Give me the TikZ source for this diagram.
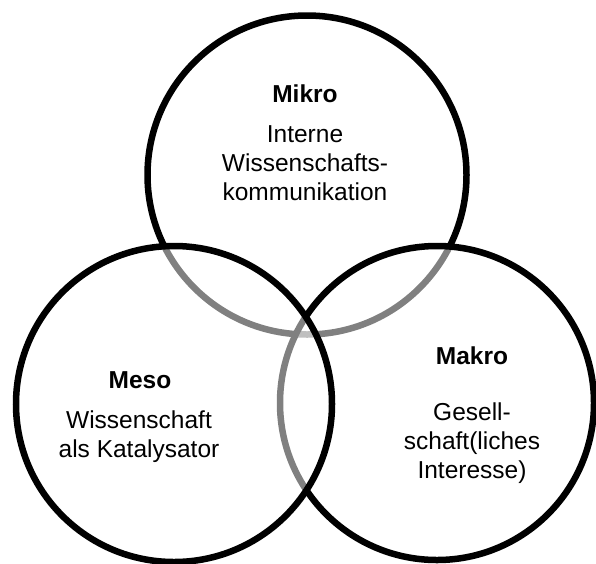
\documentclass[tikz,border=0pt]{standalone}
\usepackage{fontspec}
\setmainfont{Liberation Sans}
\begin{document}
\begin{tikzpicture}[x=1pt,y=-1pt,
  ring/.style={draw=black,line width=6.5pt},
  veil/.style={ring,fill=white,fill opacity=0.5},
  title/.style={font=\fontsize{24.5}{29}\selectfont\bfseries,inner sep=0pt,anchor=base},
  % multi-line blocks are placed by the baseline of their last line
  body/.style={font=\fontsize{24.5}{29}\selectfont,align=center,inner sep=0pt,anchor=base}]
  \useasboundingbox (0,0) rectangle (596,563);
  \clip (0,0) rectangle (596,563);
  % three levels, each lower ring shows through the upper ones
  \draw[ring,fill=white] (307,175) circle[radius=159.5];
  \draw[veil] (437,403) circle[radius=157];
  \draw[veil] (174,404) circle[radius=158];
  % labels
  \node[title] (mikro) at (305,102) {Mikro};
  \node[body]  (mikrotext) at (305,200) {Interne\\Wissenschafts-\\kommunikation};
  \node[title] (meso) at (140,388) {Meso};
  \node[body]  (mesotext) at (139,457) {Wissenschaft\\als Katalysator};
  \node[title] (makro) at (472,364) {Makro};
  \node[body]  (makrotext) at (472,478) {Gesell-\\schaft(liches\\Interesse)};
\end{tikzpicture}
\end{document}
